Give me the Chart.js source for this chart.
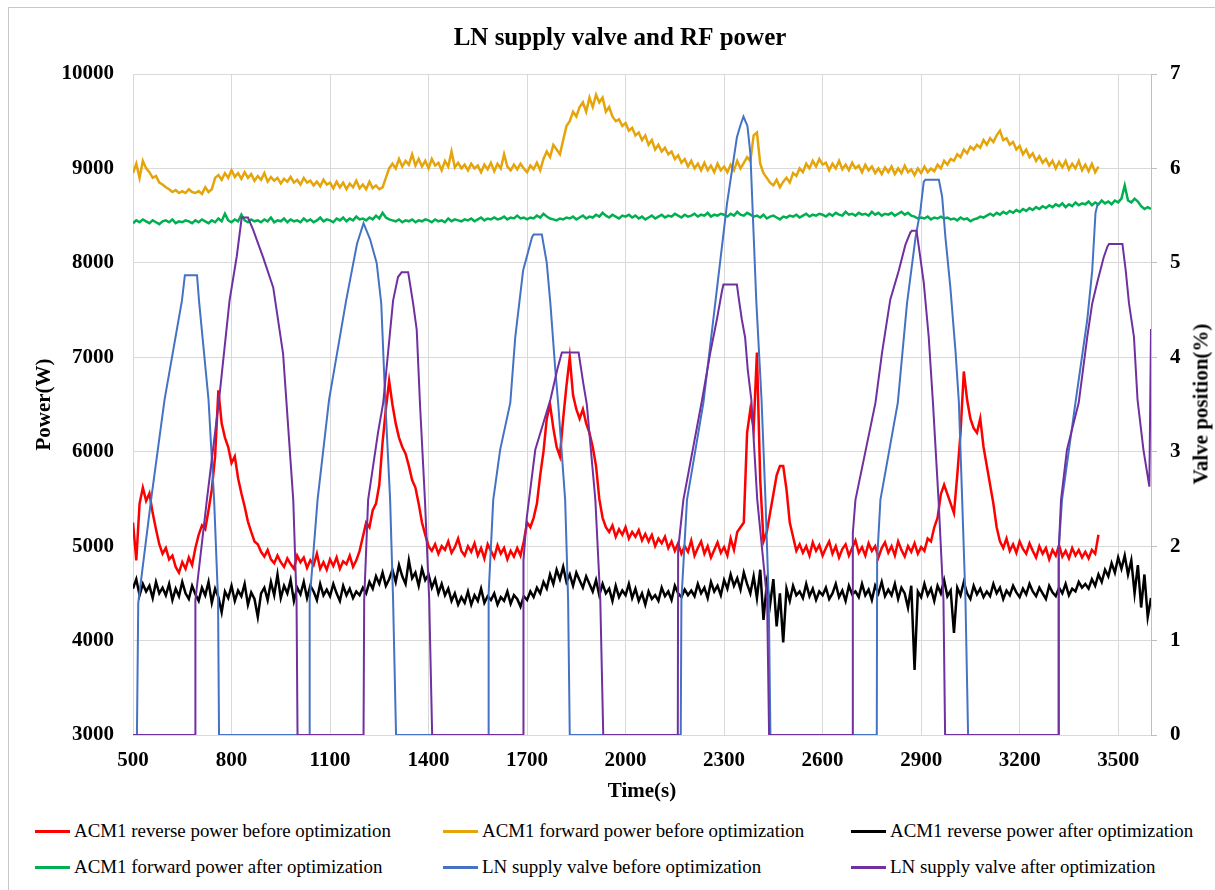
<!DOCTYPE html>
<html>
<head>
<meta charset="utf-8">
<title>LN supply valve and RF power</title>
<script src="https://cdn.jsdelivr.net/npm/chart.js@4.4.1/dist/chart.umd.min.js"></script>
<style>
  html, body { margin: 0; padding: 0; background: #fff; overflow: hidden; }
  body { width: 1215px; height: 890px; position: relative; font-family: 'Liberation Serif', 'Times New Roman', serif; }
  #frame { position: absolute; left: 8px; top: 7px; width: 1220px; height: 900px; border: 1px solid #c8c8c8; box-sizing: border-box; }
  #chart { position: absolute; left: 25px; top: 0; }
  #rightTitle { position: absolute; left: 1201px; top: 404px; transform: translate(-50%, -50%) rotate(-90deg);
                font-weight: bold; font-size: 21px; white-space: nowrap; color: #000; }
  #legend { position: absolute; left: 35px; top: 813px; display: grid;
            grid-template-columns: 408px 408px auto; grid-auto-rows: 36px; }
  .item { display: flex; align-items: center; font-size: 18.9px; color: #000; white-space: nowrap; }
  .swatch { width: 35px; height: 3px; margin-right: 4px; }
</style>
</head>
<body>
<div id="frame"></div>
<canvas id="chart" width="1190" height="810"></canvas>
<div id="rightTitle">Valve position(%)</div>
<div id="legend"></div>

<script>
// -- Data --
const timeTicks = [500, 800, 1100, 1400, 1700, 2000, 2300, 2600, 2900, 3200, 3500];

// power series are sampled every 10 s starting at 500 s
const POWER_START = 500;
const POWER_STEP = 10;

// ACM1 reverse power before optimization (500 .. 3440 s)
const reverseBefore = [
  5250, 4850, 5450, 5620, 5480, 5560, 5350, 5180, 5020, 4920,
  4980, 4860, 4900, 4780, 4720, 4830, 4760, 4880, 4800, 4980,
  5120, 5220, 5180, 5380, 5600, 5950, 6650, 6300, 6150, 6050,
  5880, 5950, 5720, 5560, 5420, 5260, 5150, 5050, 5020, 4940,
  4890, 4960, 4860, 4820, 4900, 4830, 4780, 4870, 4810, 4760,
  4900, 4830, 4880, 4770, 4850, 4800, 4920, 4760, 4830, 4750,
  4860, 4790, 4880, 4760, 4840, 4810, 4900, 4780, 4850, 4950,
  5100, 5250, 5200, 5380, 5450, 5650, 6100, 6450, 6750, 6500,
  6300, 6150, 6050, 5980, 5850, 5700, 5620, 5450, 5250, 5120,
  5000, 4950, 5020, 4920, 5000, 4960, 5050, 4930, 4990, 5080,
  4950, 4900, 5000, 4940, 5030, 4900, 4980, 4870, 5020, 4950,
  4880, 5010, 4920, 4980, 4860, 4950, 4890, 4980, 4900, 5050,
  5250, 5200, 5300, 5450, 5750, 6000, 6350, 6500, 6250, 6050,
  5950, 6350, 6700, 7000, 6600, 6450, 6350, 6450, 6300, 6200,
  6050, 5850, 5500, 5300, 5200, 5150, 5220, 5100, 5180, 5120,
  5200, 5080, 5150, 5100, 5170, 5060, 5130, 5050, 5120, 5000,
  5080, 5030, 5100, 4980, 5050, 4950, 5030, 4920, 5000, 4940,
  5060, 4900, 4980, 5050, 4920, 5000, 4880, 4960, 5040, 4930,
  4990, 4900, 5080, 4960, 5150, 5200, 5250, 6200, 6450, 6250,
  7050, 5700, 5050, 5150, 5350, 5550, 5750, 5850, 5850, 5600,
  5250, 5100, 4950, 5020, 4930, 5000, 4900, 5040, 4950, 5010,
  4900, 4980, 5050, 4920, 5000, 4880, 4970, 5020, 4900, 4980,
  5060, 4930, 4990, 4900, 5030, 4950, 5000, 4880, 4980, 5040,
  4930, 5000, 4900, 5050, 4960, 4890, 5000, 4940, 5030, 4920,
  4990, 4950, 5080, 5050, 5200, 5300, 5550, 5650, 5550, 5450,
  5350, 5750, 6200, 6850, 6550, 6350, 6250, 6200, 6350, 6050,
  5850, 5650, 5450, 5200, 5050, 4980, 5080, 4950, 5020, 4930,
  5050, 4970, 4920, 5030, 4950, 4880, 5000, 4920, 4980, 4860,
  4960, 4900, 5010, 4890, 4950, 4870, 4980, 4900, 4960, 4880,
  4940, 4870, 4960, 4920, 5120
];

// ACM1 forward power before optimization (500 .. 3440 s)
const forwardBefore = [
  8950, 9050, 8900, 9080, 9000, 8960, 8900, 8920, 8850, 8830,
  8800, 8780, 8750, 8770, 8740, 8760, 8740, 8780, 8750, 8740,
  8760, 8730, 8800, 8750, 8780, 8900, 8930, 8880, 8950, 8900,
  8980, 8910, 8950, 8890, 8960, 8900, 8940, 8870, 8920, 8880,
  8950, 8860, 8910, 8870, 8900, 8840, 8890, 8860, 8910, 8850,
  8880, 8830, 8900, 8850, 8870, 8820, 8860, 8810, 8880, 8830,
  8850, 8790, 8860, 8800, 8850, 8780, 8840, 8800, 8870, 8790,
  8830, 8780, 8860, 8790, 8820, 8780, 8800, 8900, 9000, 9050,
  9000, 9100, 9020, 9080, 9040, 9150, 9030, 9100, 9020, 9080,
  9000, 9100, 9030, 9060, 8980, 9080, 9020, 9180, 9010, 9060,
  9000, 9040, 8980, 9050, 9000, 9030, 8960, 9040, 8990, 9060,
  8970, 9050, 9000, 9150, 9020, 8980, 9040, 8990, 9050, 9000,
  8960, 9030, 8990, 9060, 8980, 9100, 9180, 9120, 9250, 9200,
  9150, 9300, 9450, 9500, 9600, 9550, 9650, 9700, 9600, 9750,
  9650, 9780, 9700, 9750, 9600, 9650, 9550, 9500, 9520, 9450,
  9480, 9400, 9430, 9350, 9380, 9300, 9350, 9250, 9300, 9200,
  9250, 9180, 9220, 9150, 9180, 9100, 9140, 9060, 9100, 9020,
  9080, 9000, 9050, 8980, 9060, 8980, 9030, 8960, 9050, 8980,
  9020, 8960, 9040, 8980, 9080, 9000, 9060, 9120, 9080, 9350,
  9380, 9050, 8950, 8900, 8850, 8820, 8880, 8800, 8860, 8900,
  8850, 8950, 8920, 9000, 8960, 9050, 9000, 9080, 9020, 9100,
  9040, 9060, 8980, 9050, 9000, 9080, 8990, 9040, 8980, 9060,
  9000, 9030, 8960, 9040, 8980, 9020, 8950, 9000, 8940, 9010,
  8960, 9020, 8940, 9000, 8950, 9030, 8960, 8990, 8930, 9000,
  8950, 9020, 8960, 9000, 8970, 9040, 9000, 9080, 9040, 9100,
  9080, 9150, 9120, 9200, 9160, 9230, 9200, 9250, 9220, 9300,
  9250, 9320, 9280, 9350, 9400, 9300, 9320, 9250, 9280, 9200,
  9240, 9150, 9200, 9120, 9160, 9080, 9130, 9060, 9100, 9030,
  9080, 9000, 9070, 9010, 9080, 8990, 9050, 9000, 9080, 8980,
  9040, 8970, 9050, 8960, 9020
];

// ACM1 reverse power after optimization (500 .. 3600 s)
const reverseAfter = [
  4550, 4650, 4480, 4600, 4520, 4580, 4450, 4620, 4500, 4560,
  4480, 4600, 4430, 4550, 4470, 4620, 4500, 4440, 4580, 4490,
  4420, 4560, 4480, 4620, 4400, 4550, 4460, 4300, 4520, 4450,
  4580, 4420, 4530, 4470, 4600, 4380, 4510, 4440, 4250, 4500,
  4560, 4430, 4620, 4480, 4700, 4450, 4580, 4500, 4640, 4420,
  4560, 4490, 4620, 4450, 4580, 4520, 4430, 4600, 4480, 4540,
  4470, 4600, 4500, 4420, 4580, 4480, 4550, 4450, 4520, 4480,
  4560, 4500, 4620, 4550, 4680, 4600, 4720, 4580, 4650, 4750,
  4620, 4800, 4680, 4600, 4850, 4660, 4720, 4580, 4760, 4640,
  4700, 4560, 4650, 4500, 4600, 4480, 4550, 4420, 4500, 4380,
  4460, 4400, 4520, 4380, 4480, 4420, 4550, 4400, 4470, 4430,
  4500, 4380, 4460, 4420, 4520, 4390, 4480, 4440, 4360, 4470,
  4430, 4520, 4460, 4560, 4500, 4620, 4550, 4700, 4600, 4750,
  4650, 4780, 4620, 4700, 4580, 4720, 4640, 4560, 4680, 4600,
  4520, 4640, 4480, 4600, 4500, 4550, 4420, 4580, 4460, 4530,
  4480, 4600, 4450, 4550, 4420, 4500, 4380, 4520, 4440, 4480,
  4420, 4560, 4470, 4520, 4430, 4580, 4500, 4460, 4540, 4480,
  4530, 4470, 4600, 4500, 4560, 4450, 4620, 4520, 4580, 4480,
  4640, 4550, 4700, 4580, 4660, 4540, 4720, 4600, 4500, 4680,
  4450, 4750, 4220, 4600, 4380, 4650, 4150, 4500, 3980, 4550,
  4420, 4580, 4480, 4520, 4450, 4600, 4470, 4550, 4430, 4520,
  4480, 4560, 4440, 4500, 4600, 4460, 4530, 4420, 4580, 4490,
  4520, 4460, 4600, 4480, 4540, 4430, 4580, 4500, 4620, 4470,
  4540, 4480, 4600, 4440, 4560, 4500, 4350, 4580, 3690, 4520,
  4460, 4600, 4480, 4550, 4420, 4580, 4500, 4640, 4470, 4530,
  4080, 4560, 4480, 4620, 4500, 4440, 4580, 4490, 4550, 4460,
  4520, 4470, 4600, 4500, 4560, 4440, 4530, 4480, 4580, 4510,
  4460, 4550, 4490, 4600, 4520, 4470, 4560, 4500, 4440, 4580,
  4510, 4470, 4560, 4500, 4600, 4480, 4550, 4520, 4620, 4560,
  4600, 4550, 4650, 4580, 4700, 4620, 4750, 4680, 4820, 4720,
  4880, 4760, 4900, 4700, 4850, 4500, 4800, 4350, 4700, 4250,
  4450
];

// ACM1 forward power after optimization (500 .. 3600 s)
const forwardAfter = [
  8420, 8450, 8430, 8460, 8440, 8420, 8450, 8430, 8410, 8440,
  8450, 8430, 8460, 8420, 8440, 8430, 8450, 8440, 8420, 8450,
  8430, 8460, 8440, 8420, 8450, 8430, 8470, 8440, 8520, 8450,
  8430, 8460, 8440, 8510, 8450, 8430, 8460, 8440, 8450, 8430,
  8460, 8440, 8480, 8430, 8450, 8440, 8470, 8430, 8460, 8440,
  8450, 8430, 8470, 8440, 8460, 8430, 8450, 8480, 8440, 8460,
  8450, 8430, 8470, 8450, 8480, 8440, 8470, 8450, 8490, 8460,
  8470, 8450, 8480, 8460, 8500, 8470, 8530, 8480, 8460, 8450,
  8440, 8460, 8430, 8450, 8440, 8460, 8430, 8450, 8440, 8460,
  8450, 8430, 8460, 8440, 8450, 8430, 8470, 8440, 8460, 8450,
  8440, 8460, 8450, 8470, 8440, 8460, 8480, 8450, 8470, 8460,
  8480, 8460, 8470, 8490, 8460, 8480, 8470, 8500, 8470, 8480,
  8460, 8480, 8470, 8500, 8480, 8520, 8490, 8470, 8460, 8450,
  8470, 8460, 8480, 8470, 8490, 8460, 8480, 8500, 8470, 8490,
  8480, 8510, 8490, 8530, 8500, 8480, 8510, 8490, 8470, 8500,
  8490, 8510, 8480, 8500, 8470, 8490, 8460, 8480, 8500, 8470,
  8490, 8510, 8480, 8500, 8490, 8520, 8500, 8480, 8510, 8490,
  8500, 8520, 8490, 8510, 8500, 8530, 8490, 8510, 8500, 8520,
  8510, 8490, 8520, 8500, 8540, 8510, 8500, 8530, 8510, 8490,
  8500, 8480, 8510, 8470, 8490, 8500, 8480, 8460, 8490, 8480,
  8500, 8490, 8510, 8480, 8500, 8520, 8490, 8510, 8500, 8520,
  8510, 8490, 8520, 8500, 8530, 8510, 8500, 8540, 8510, 8520,
  8500, 8530, 8510, 8520, 8500, 8540, 8510, 8530, 8500, 8520,
  8510, 8530, 8500, 8520, 8540, 8510, 8530, 8500, 8490, 8470,
  8480, 8470, 8490, 8460, 8480, 8470, 8490, 8470, 8480, 8460,
  8470, 8450, 8480, 8460, 8470, 8440, 8460, 8470, 8490, 8480,
  8500, 8520, 8500, 8530, 8510, 8540, 8520, 8550, 8530, 8560,
  8540, 8570, 8550, 8580, 8560, 8590, 8570, 8600, 8580, 8610,
  8590, 8620, 8600, 8630, 8590, 8620, 8600, 8640, 8610, 8630,
  8620, 8650, 8610, 8640, 8620, 8660, 8630, 8650, 8620, 8660,
  8640, 8680, 8820, 8660, 8640, 8680, 8650, 8600, 8570, 8590,
  8570
];

// LN supply valve before optimization (time s, position %)
const valveBeforeTime = [
  500, 512, 516, 555, 596, 649, 658, 695, 701, 730, 747, 759, 762,
  1036, 1038, 1062, 1097, 1149, 1182, 1202, 1222, 1242, 1256, 1268, 1283, 1292, 1301,
  1582, 1583, 1597, 1618, 1649, 1664, 1688, 1715, 1720, 1745, 1760, 1771, 1786, 1795, 1816, 1825, 1830,
  2168, 2170, 2187, 2237, 2273, 2309, 2339, 2349, 2359, 2371, 2380, 2398, 2414, 2426, 2436, 2441,
  2765, 2766, 2776, 2829, 2857, 2883, 2898, 2908, 2913, 2954, 2964, 2974, 2989, 3005, 3015, 3025, 3035, 3043,
  3318, 3319, 3329, 3370, 3406, 3421, 3431, 3438
];
const valveBefore = [
  0, 0, 1.4, 2.49, 3.55, 4.6, 4.87, 4.87, 4.6, 3.55, 2.49, 1.43, 0,
  0, 1.43, 2.49, 3.55, 4.6, 5.2, 5.42, 5.25, 5.0, 4.57, 3.55, 2.49, 1.43, 0,
  0, 1.5, 2.49, 3.02, 3.52, 4.21, 4.92, 5.27, 5.3, 5.3, 5.0, 4.57, 3.87, 3.5, 2.49, 1.43, 0,
  0, 1.43, 2.49, 3.52, 4.57, 5.63, 6.33, 6.45, 6.55, 6.45, 6.16, 4.6, 3.55, 2.49, 1.43, 0,
  0, 1.85, 2.49, 3.52, 4.57, 5.27, 5.56, 5.86, 5.88, 5.88, 5.7, 5.27, 4.74, 4.05, 3.52, 2.49, 1.43, 0,
  0, 1.96, 2.49, 3.52, 4.4, 4.92, 5.53, 5.63
];

// LN supply valve after optimization (time s, position %)
const valveAfterTime = [
  500, 689, 690, 725, 762, 794, 816, 831, 850, 866, 896, 927, 957, 988, 998, 1001,
  1202, 1204, 1216, 1246, 1262, 1292, 1307, 1318, 1338, 1353, 1364, 1374, 1389, 1402, 1411,
  1688, 1689, 1699, 1725, 1771, 1792, 1806, 1857, 1871, 1882, 1908, 1923, 1932,
  2159, 2160, 2176, 2233, 2258, 2278, 2294, 2298, 2339, 2344, 2354, 2364, 2372, 2383, 2401, 2431, 2437,
  2691, 2692, 2700, 2761, 2781, 2806, 2832, 2852, 2867, 2872, 2886, 2893, 2908, 2923, 2936, 2953, 2968, 2973,
  3318, 3319, 3326, 3344, 3380, 3406, 3421, 3436, 3456, 3467, 3472, 3513, 3523, 3533, 3548, 3559, 3577, 3595, 3600
];
const valveAfter = [
  0, 0, 1.43, 2.49, 3.55, 4.6, 5.07, 5.48, 5.48, 5.35, 5.06, 4.74, 4.04, 2.49, 1.43, 0,
  0, 1.43, 2.49, 3.2, 3.52, 4.6, 4.85, 4.9, 4.9, 4.57, 4.29, 3.5, 2.49, 1.43, 0,
  0, 1.85, 2.3, 3.02, 3.55, 3.87, 4.05, 4.05, 3.73, 3.5, 2.49, 1.43, 0,
  0, 1.96, 2.49, 3.55, 4.05, 4.4, 4.71, 4.77, 4.77, 4.64, 4.4, 4.21, 3.87, 3.55, 2.49, 1.43, 0,
  0, 2.14, 2.49, 3.52, 4.05, 4.61, 4.92, 5.19, 5.32, 5.34, 5.34, 5.17, 4.79, 4.22, 3.52, 2.49, 1.43, 0,
  0, 1.96, 2.49, 3.02, 3.52, 4.22, 4.57, 4.79, 5.06, 5.17, 5.2, 5.2, 4.92, 4.57, 4.22, 3.55, 3.02, 2.63, 4.3
];

// -- Styling --
const SERIF = "'Liberation Serif', 'Times New Roman', serif";
const GRID = '#d9d9d9';
const tickFont = { family: SERIF, size: 21, weight: 'bold' };

const sampled = arr => arr.map((v, i) => ({ x: POWER_START + i * POWER_STEP, y: v }));
const paired = (ts, vs) => ts.map((t, i) => ({ x: t, y: vs[i] }));

// legend order follows the picture (row by row); "order" controls drawing (lower = on top)
const series = [
  { label: 'ACM1 reverse power before optimization', color: '#FF0000', data: sampled(reverseBefore), axis: 'y', order: 6, width: 2.5 },
  { label: 'ACM1 forward power before optimization', color: '#E5A50A', data: sampled(forwardBefore), axis: 'y', order: 5, width: 2.5 },
  { label: 'ACM1 reverse power after optimization', color: '#000000', data: sampled(reverseAfter), axis: 'y', order: 4, width: 2.5 },
  { label: 'ACM1 forward power after optimization', color: '#00B050', data: sampled(forwardAfter), axis: 'y', order: 3, width: 2.5 },
  { label: 'LN supply valve before optimization', color: '#4472C4', data: paired(valveBeforeTime, valveBefore), axis: 'y1', order: 2, width: 2 },
  { label: 'LN supply valve after optimization', color: '#7030A0', data: paired(valveAfterTime, valveAfter), axis: 'y1', order: 1, width: 2 }
];

// -- Chart --
const chart = new Chart(document.getElementById('chart'), {
  type: 'line',
  data: {
    datasets: series.map(s => ({
      label: s.label,
      data: s.data,
      yAxisID: s.axis,
      order: s.order,
      borderColor: s.color,
      backgroundColor: s.color,
      borderWidth: s.width,
      pointRadius: 0,
      tension: 0,
      fill: false
    }))
  },
  options: {
    responsive: false,
    animation: false,
    events: [],
    layout: { padding: 0 },
    plugins: {
      legend: { display: false },
      tooltip: { enabled: false },
      title: {
        display: true,
        text: 'LN supply valve and RF power',
        color: '#000',
        font: { family: SERIF, size: 25, weight: 'bold' },
        padding: { top: 24, bottom: 20 }
      }
    },
    scales: {
      x: {
        type: 'linear',
        min: 500,
        max: 3600,
        afterBuildTicks: axis => { axis.ticks = timeTicks.map(v => ({ value: v })); },
        afterFit: axis => { axis.height = 75; },
        grid: { color: GRID, drawTicks: false },
        border: { display: true, color: GRID },
        ticks: { color: '#000', font: tickFont, padding: 13, maxRotation: 0, callback: v => String(v) },
        title: { display: true, text: 'Time(s)', color: '#000', font: tickFont, padding: { top: 0, bottom: 6 } }
      },
      y: {
        position: 'left',
        min: 3000,
        max: 10000,
        afterFit: axis => { axis.width = 108; },
        grid: { color: GRID, drawTicks: false },
        border: { display: true, color: GRID },
        ticks: { stepSize: 1000, color: '#000', font: tickFont, padding: 19, callback: v => String(v) },
        title: { display: true, text: 'Power(W)', color: '#000', font: tickFont, padding: { top: 7, bottom: 0 } }
      },
      y1: {
        position: 'right',
        min: 0,
        max: 7,
        afterFit: axis => { axis.width = 64; },
        grid: { drawOnChartArea: false, drawTicks: true, tickLength: 6, color: '#bfbfbf' },
        border: { display: true, color: '#bfbfbf' },
        ticks: { stepSize: 1, color: '#000', font: tickFont, padding: 13, callback: v => String(v) }
      }
    }
  }
});

// -- Legend (two rows of three, as in the picture) --
const legendBox = document.getElementById('legend');
series.forEach(s => {
  const item = document.createElement('div');
  item.className = 'item';
  const swatch = document.createElement('span');
  swatch.className = 'swatch';
  swatch.style.background = s.color;
  item.appendChild(swatch);
  item.appendChild(document.createTextNode(s.label));
  legendBox.appendChild(item);
});
</script>
</body>
</html>
